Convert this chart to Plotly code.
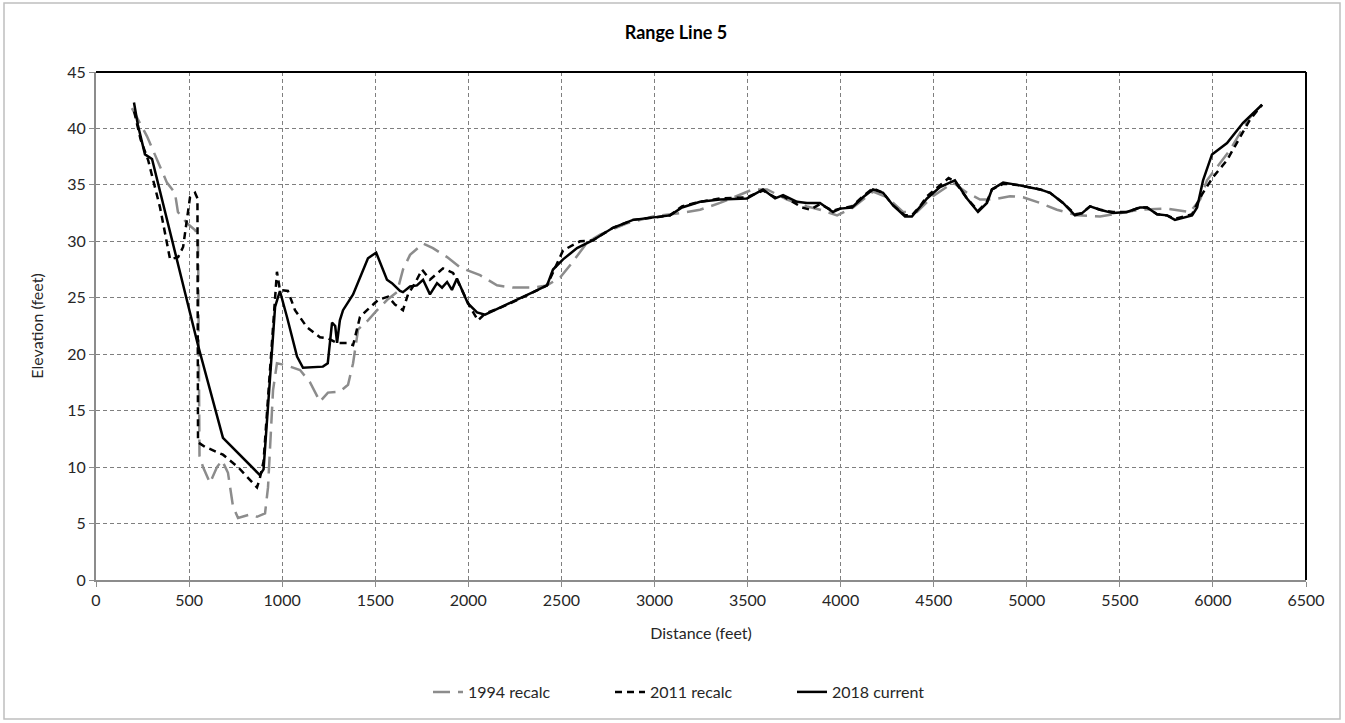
import plotly.graph_objects as go

# Surveyed cross-section, distance (feet) vs elevation (feet)
x_1994 = [193, 274, 381, 424, 440, 489, 532, 548, 556, 575, 612, 650, 677, 709, 736, 763, 827, 865, 908, 924,
          951, 972, 1026, 1096, 1150, 1203, 1246, 1311, 1354, 1381, 1408, 1461, 1510, 1563, 1617, 1649, 1687,
          1757, 1810, 1886, 1955, 2063, 2154, 2240, 2348, 2423, 2493, 2562, 2638, 2708, 2852, 2992, 3137, 3245,
          3352, 3459, 3529, 3605, 3712, 3819, 3889, 3981, 4067, 4174, 4249, 4335, 4410, 4496, 4604, 4679, 4749,
          4819, 4910, 4980, 5071, 5162, 5270, 5394, 5501, 5608, 5753, 5877, 5931, 5968, 6092, 6189, 6264]
y_1994 = [41.8, 39.3, 35.2, 34.3, 32.6, 31.6, 31.0, 30.5, 11.0, 10.0, 8.6, 10.0, 10.6, 9.5, 6.5, 5.5, 5.8, 5.6, 5.9, 8.2,
          16.8, 19.2, 19.0, 18.6, 17.5, 15.8, 16.6, 16.7, 17.3, 19.2, 22.2, 23.0, 23.9, 24.8, 25.5, 27.5, 28.8,
          29.8, 29.4, 28.6, 27.7, 27.0, 26.1, 25.9, 25.9, 26.1, 26.8, 28.2, 29.9, 30.6, 31.6, 32.2, 32.5, 32.8,
          33.4, 34.1, 34.6, 34.6, 33.7, 33.1, 32.8, 32.3, 33.0, 34.4, 33.9, 32.6, 32.6, 34.0, 35.2, 34.3, 33.7,
          33.7, 34.0, 33.9, 33.4, 32.8, 32.3, 32.2, 32.5, 32.8, 32.9, 32.6, 33.7, 35.4, 38.1, 40.8, 42.1]

x_2011 = [205, 240, 280, 344, 398, 441, 468, 489, 505, 532, 545, 548, 585, 682, 763, 865, 880, 900, 950, 972,
          988, 1031, 1069, 1133, 1203, 1246, 1295, 1348, 1381, 1418, 1456, 1515, 1569, 1606, 1649, 1676, 1714,
          1751, 1794, 1864, 1918, 1945, 2009, 2052, 2090, 2170, 2262, 2348, 2423, 2470, 2509, 2600, 2670, 2777,
          2885, 2992, 3084, 3148, 3245, 3352, 3497, 3583, 3648, 3691, 3766, 3793, 3836, 3889, 3959, 3997, 4061,
          4120, 4174, 4228, 4281, 4346, 4383, 4426, 4464, 4534, 4580, 4614, 4679, 4738, 4786, 4813, 4873, 4948,
          5071, 5125, 5195, 5259, 5297, 5340, 5394, 5463, 5538, 5608, 5646, 5700, 5753, 5796, 5888, 5931, 6001,
          6076, 6146, 6200, 6264]
y_2011 = [41.5, 39.0, 37.2, 33.0, 28.4, 28.6, 29.5, 32.2, 33.9, 34.3, 33.8, 12.2, 11.8, 11.1, 10.0, 8.2, 9.0, 10.5,
          22.0, 27.3, 25.7, 25.6, 23.9, 22.4, 21.5, 21.4, 21.0, 21.0, 20.8, 23.3, 23.9, 24.8, 25.1, 24.4, 23.9,
          25.3, 26.3, 27.5, 26.6, 27.6, 27.2, 26.4, 24.2, 23.0, 23.6, 24.1, 24.8, 25.5, 26.1, 27.8, 29.2, 30.0,
          30.1, 31.2, 31.9, 32.1, 32.3, 33.1, 33.5, 33.8, 33.9, 34.5, 33.9, 34.0, 33.3, 33.0, 32.8, 33.3, 32.7,
          32.9, 33.1, 34.0, 34.7, 34.3, 33.2, 32.3, 32.3, 33.1, 34.0, 35.0, 35.6, 35.3, 33.8, 32.7, 33.5, 34.6,
          35.1, 35.0, 34.6, 34.3, 33.4, 32.4, 32.5, 33.1, 32.8, 32.6, 32.6, 33.0, 33.0, 32.4, 32.3, 32.0, 32.4,
          33.9, 35.7, 37.2, 39.2, 40.8, 42.1]

x_2018 = [204, 225, 263, 301, 548, 682, 880, 900, 962, 988, 1026, 1080, 1112, 1219, 1245, 1268, 1285, 1295,
          1310, 1327, 1381, 1461, 1505, 1563, 1590, 1633, 1649, 1687, 1724, 1757, 1794, 1832, 1859, 1886, 1912,
          1939, 1998, 2047, 2090, 2170, 2262, 2348, 2423, 2455, 2509, 2584, 2670, 2777, 2885, 2992, 3084, 3148,
          3245, 3352, 3497, 3583, 3648, 3691, 3766, 3819, 3889, 3959, 3997, 4061, 4120, 4174, 4228, 4281, 4346,
          4383, 4426, 4464, 4534, 4614, 4679, 4738, 4786, 4813, 4873, 4948, 5071, 5125, 5195, 5259, 5297, 5340,
          5394, 5463, 5538, 5608, 5646, 5700, 5753, 5796, 5888, 5915, 5947, 5995, 6076, 6162, 6264]
y_2018 = [42.3, 40.3, 37.7, 37.3, 20.8, 12.6, 9.3, 9.8, 24.2, 25.6, 23.3, 19.8, 18.8, 18.9, 19.2, 22.8, 22.5, 21.0,
          23.0, 23.9, 25.3, 28.5, 29.0, 26.6, 26.3, 25.6, 25.5, 26.0, 26.1, 26.6, 25.3, 26.3, 25.9, 26.4, 25.7,
          26.7, 24.5, 23.7, 23.5, 24.1, 24.8, 25.5, 26.1, 27.5, 28.4, 29.4, 30.1, 31.2, 31.9, 32.1, 32.3, 33.0,
          33.5, 33.7, 33.8, 34.6, 33.8, 34.1, 33.5, 33.4, 33.4, 32.6, 32.9, 33.0, 33.9, 34.6, 34.3, 33.2, 32.2,
          32.2, 33.0, 33.8, 34.8, 35.4, 33.8, 32.6, 33.4, 34.6, 35.2, 35.0, 34.6, 34.3, 33.4, 32.3, 32.5, 33.1,
          32.8, 32.5, 32.6, 33.0, 33.0, 32.4, 32.3, 31.9, 32.3, 33.0, 35.4, 37.7, 38.7, 40.5, 42.1]

x_ticks = list(range(0, 6501, 500))
y_ticks = list(range(0, 46, 5))

FONT = "Lato, 'Open Sans', sans-serif"
TEXT = "#262626"
GRID = "#7f7f7f"

fig = go.Figure()
fig.add_trace(go.Scatter(x=x_1994, y=y_1994, mode="lines", name="1994 recalc",
                         line=dict(color="#8c8c8c", width=2.5, dash="17px,8px")))
fig.add_trace(go.Scatter(x=x_2011, y=y_2011, mode="lines", name="2011 recalc",
                         line=dict(color="#000000", width=2.5, dash="7px,5px")))
fig.add_trace(go.Scatter(x=x_2018, y=y_2018, mode="lines", name="2018 current",
                         line=dict(color="#000000", width=2.5)))

axis_common = dict(
    showgrid=True, gridcolor=GRID, gridwidth=1.2, griddash="4px,3px",
    showline=True, linecolor="#8c8c8c", linewidth=2,
    ticks="outside", ticklen=5, tickcolor="#8c8c8c",
    tickfont=dict(family=FONT, size=16, color=TEXT),
    zeroline=False,
)

fig.update_xaxes(range=[0, 6500], tickvals=x_ticks, ticktext=[str(v) for v in x_ticks],
                 title=dict(text="Distance (feet)", font=dict(family=FONT, size=16, color=TEXT), standoff=20),
                 **axis_common)
fig.update_yaxes(range=[0, 45], tickvals=y_ticks, ticktext=[str(v) for v in y_ticks],
                 title=dict(text="Elevation (feet)", font=dict(family=FONT, size=16, color=TEXT), standoff=20),
                 **axis_common)

# Dark frame on the top and right of the plot area, light outer border round the chart
fig.add_shape(type="line", xref="paper", yref="paper", x0=0, x1=1, y0=1, y1=1,
              line=dict(color="#000000", width=2))
fig.add_shape(type="line", xref="paper", yref="paper", x0=1, x1=1, y0=0, y1=1,
              line=dict(color="#000000", width=2))
fig.add_shape(type="rect", xref="paper", yref="paper",
              x0=(4 - 96) / 1210, x1=(1340 - 96) / 1210, y0=(580 - 719) / 508, y1=(580 - 3) / 508,
              line=dict(color="#bfbfbf", width=1.5))

fig.update_layout(
    width=1345, height=723,
    margin=dict(l=96, r=39, t=72, b=143),
    paper_bgcolor="white", plot_bgcolor="white",
    title=dict(text="<b>Range Line 5</b>", x=(676 - 96) / 1210, xref="paper", xanchor="center",
               y=1 - 33 / 723, yanchor="middle",
               font=dict(family=FONT, size=18, color="#000000")),
    legend=dict(orientation="h", x=(428 - 96) / 1210, xanchor="left", y=(580 - 692) / 508, yanchor="middle",
                font=dict(family=FONT, size=16, color=TEXT), bgcolor="rgba(0,0,0,0)",
                entrywidth=137, entrywidthmode="pixels"),
    showlegend=True,
)

fig.write_html("out.html")
